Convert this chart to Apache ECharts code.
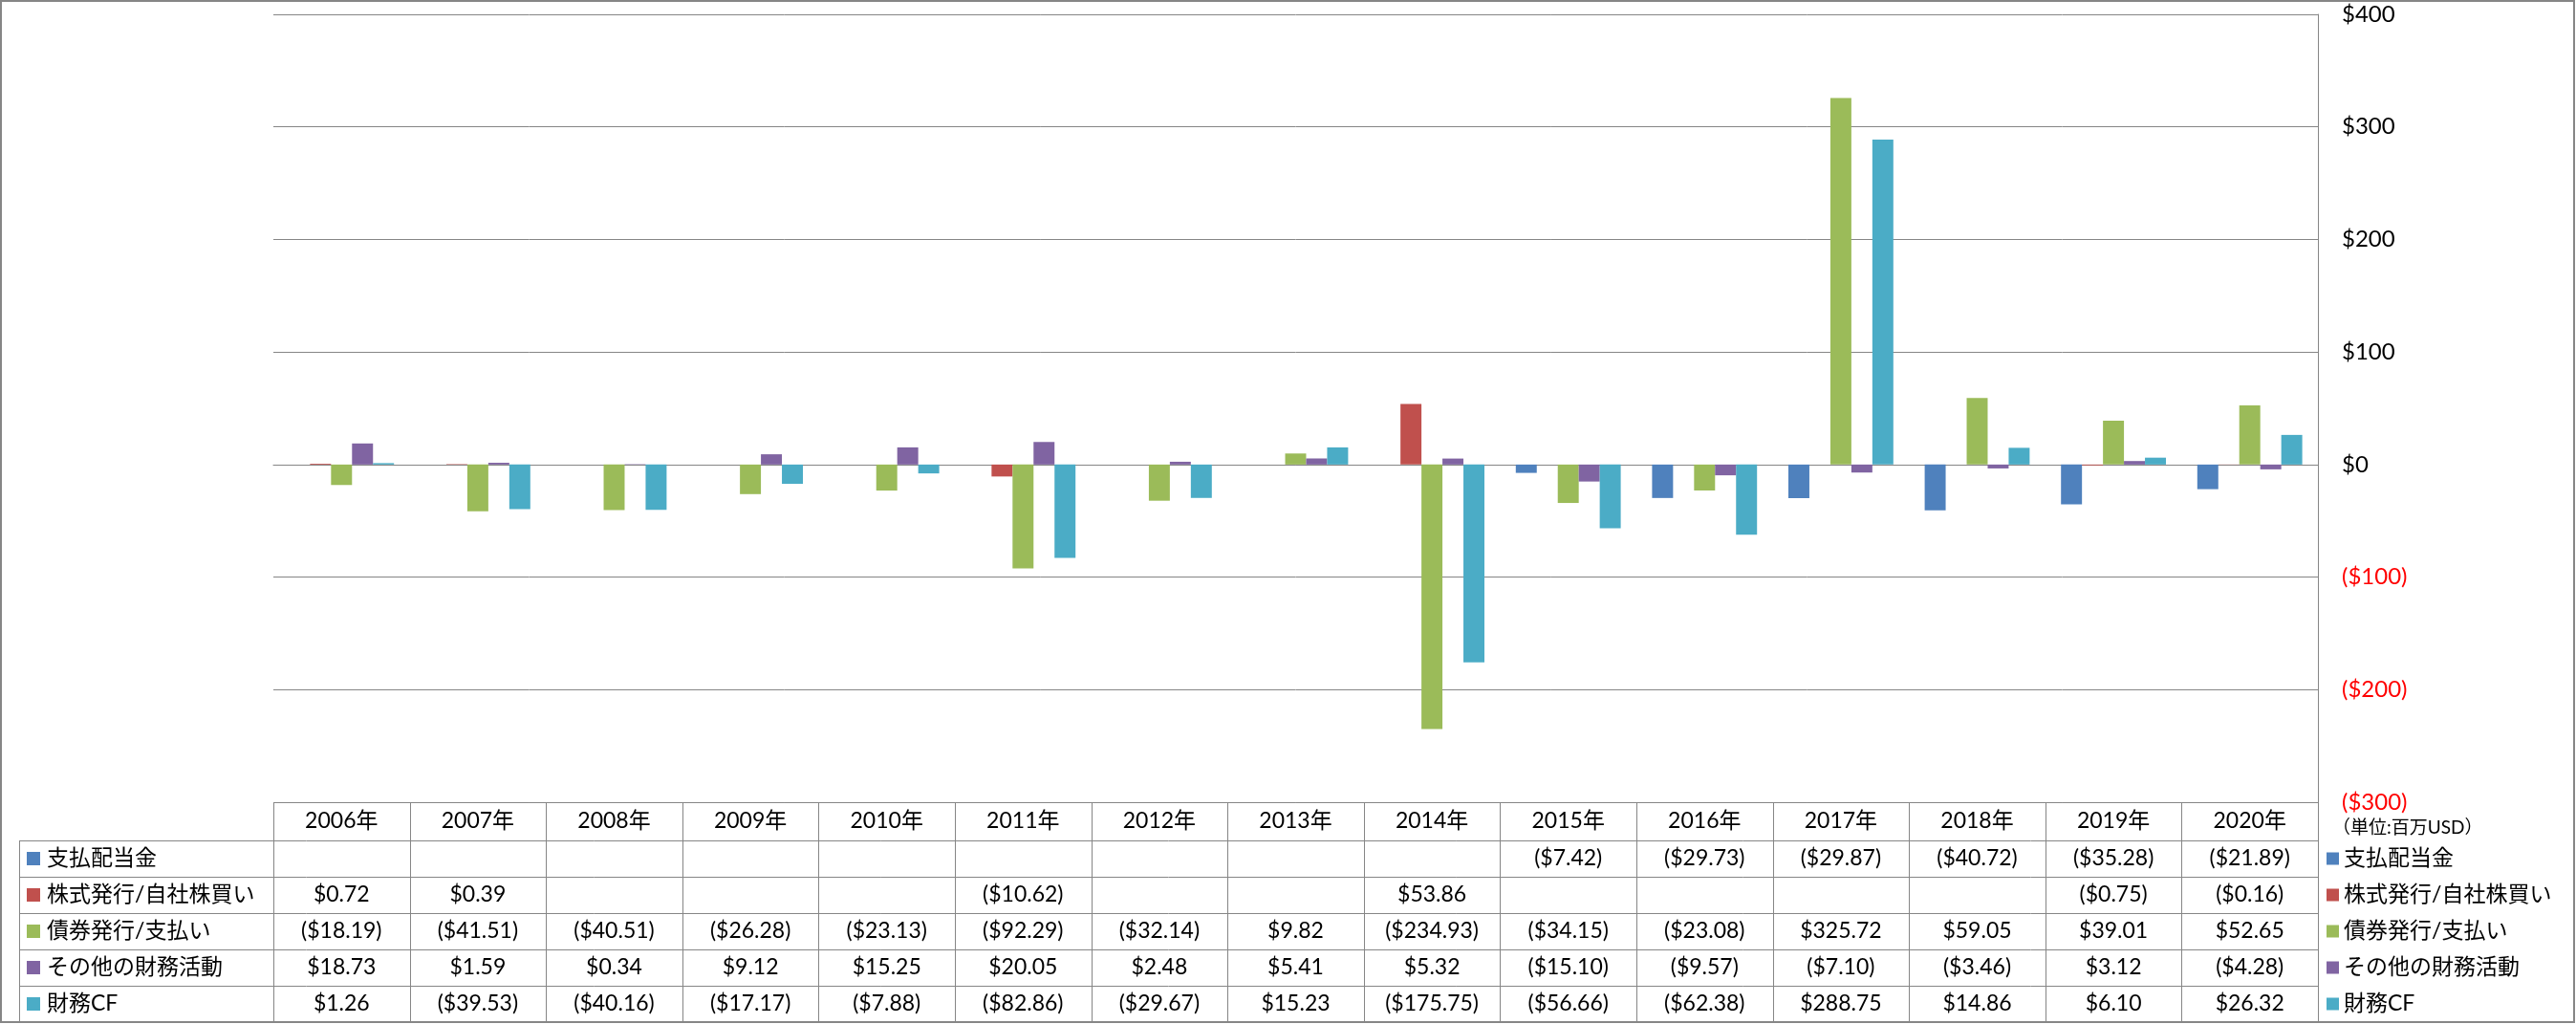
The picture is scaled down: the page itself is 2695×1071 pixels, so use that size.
<!DOCTYPE html>
<html>
<head>
<meta charset="utf-8">
<script src="https://cdn.jsdelivr.net/npm/echarts@6/dist/echarts.min.js"></script>
<style>
  html, body { margin: 0; padding: 0; background: #fff; }
  #main { width: 2695px; height: 1071px; }
</style>
</head>
<body>
<div id="main"></div>
<script>
// 年度
const years = ['2006年', '2007年', '2008年', '2009年', '2010年', '2011年', '2012年', '2013年',
  '2014年', '2015年', '2016年', '2017年', '2018年', '2019年', '2020年'];

// 系列名
const seriesNames = ['支払配当金', '株式発行/自社株買い', '債券発行/支払い', 'その他の財務活動', '財務CF'];

// 百万USD
const dividends = [null, null, null, null, null, null, null, null, null,
  -7.42, -29.73, -29.87, -40.72, -35.28, -21.89];
const stock = [0.72, 0.39, null, null, null, -10.62, null, null, 53.86,
  null, null, null, null, -0.75, -0.16];
const debt = [-18.19, -41.51, -40.51, -26.28, -23.13, -92.29, -32.14, 9.82, -234.93,
  -34.15, -23.08, 325.72, 59.05, 39.01, 52.65];
const other = [18.73, 1.59, 0.34, 9.12, 15.25, 20.05, 2.48, 5.41, 5.32,
  -15.10, -9.57, -7.10, -3.46, 3.12, -4.28];
const financeCF = [1.26, -39.53, -40.16, -17.17, -7.88, -82.86, -29.67, 15.23, -175.75,
  -56.66, -62.38, 288.75, 14.86, 6.10, 26.32];

const yTicks = [-300, -200, -100, 0, 100, 200, 300, 400];

const colors = ['#4F81BD', '#C0504D', '#9BBB59', '#8064A2', '#4BACC6'];
const allData = [dividends, stock, debt, other, financeCF];
const FONT = 'Lato, "Noto Sans CJK JP", sans-serif';
const LINE = '#868686';

function fmtMoney(v, digits) {
  if (v === null || v === undefined) return '';
  const s = '$' + Math.abs(v).toFixed(digits);
  return v < 0 ? '(' + s + ')' : s;
}

var chartDom = document.getElementById('main');
var myChart = echarts.init(chartDom);

const option = {
  animation: false,
  color: colors,
  textStyle: { fontFamily: FONT },
  grid: { left: 286, right: 270, top: 15, bottom: 232, containLabel: false },
  legend: {
    orient: 'vertical',
    left: 2434,
    top: 886,
    padding: 0,
    icon: 'rect',
    itemWidth: 13,
    itemHeight: 13,
    itemGap: 14,
    textStyle: { fontSize: 23, lineHeight: 24, color: '#000', fontFamily: FONT },
    data: seriesNames
  },
  xAxis: {
    type: 'category',
    data: years,
    axisLine: { show: true, onZero: true, lineStyle: { color: LINE, width: 1 } },
    axisTick: { show: false },
    axisLabel: { show: false },
    splitLine: { show: false }
  },
  yAxis: {
    type: 'value',
    position: 'right',
    min: yTicks[0],
    max: yTicks[yTicks.length - 1],
    interval: 100,
    axisLine: { show: true, lineStyle: { color: LINE, width: 1 } },
    axisTick: { show: false },
    splitLine: { show: true, lineStyle: { color: LINE, width: 1 } },
    axisLabel: {
      margin: 25,
      fontSize: 24,
      fontFamily: FONT,
      formatter: function (v) {
        return v < 0 ? '{neg|' + fmtMoney(v, 0) + '}' : '{pos|' + fmtMoney(v, 0) + '}';
      },
      rich: {
        pos: { color: '#000', fontSize: 24, fontFamily: FONT },
        neg: { color: '#FF0000', fontSize: 24, fontFamily: FONT }
      }
    }
  },
  series: seriesNames.map(function (name, i) {
    return {
      name: name,
      type: 'bar',
      data: allData[i],
      barGap: '0%',
      barCategoryGap: '23%',
      itemStyle: { color: colors[i] }
    };
  })
};
myChart.setOption(option);

// データテーブル（グラフ下）
const xs = years.map(function (y, i) { return myChart.convertToPixel({ xAxisIndex: 0 }, i); });
const band = xs[1] - xs[0];
const tableLeft = 20;
const colLeft = xs[0] - band / 2;
const colRight = xs[xs.length - 1] + band / 2;
const headTop = myChart.convertToPixel({ yAxisIndex: 0 }, yTicks[0]);
const headBottom = headTop + 40;
const rowH = 38;

const g = [];
// 外枠
g.push({ type: 'rect', shape: { x: 1, y: 1, width: 2692, height: 1068 },
  style: { fill: null, stroke: LINE, lineWidth: 2 }, silent: true });

// 横線
g.push({ type: 'line', shape: { x1: colLeft, y1: headTop + 0.5, x2: colRight, y2: headTop + 0.5 },
  style: { stroke: LINE, lineWidth: 1 } });
for (let r = 0; r <= seriesNames.length; r++) {
  const y = Math.round(headBottom + r * rowH) + 0.5;
  g.push({ type: 'line', shape: { x1: tableLeft, y1: y, x2: colRight, y2: y },
    style: { stroke: LINE, lineWidth: 1 } });
}
// 縦線
const tableBottom = headBottom + seriesNames.length * rowH;
g.push({ type: 'line', shape: { x1: tableLeft + 0.5, y1: headBottom, x2: tableLeft + 0.5, y2: tableBottom },
  style: { stroke: LINE, lineWidth: 1 } });
for (let c = 0; c <= years.length; c++) {
  const x = Math.round(colLeft + c * band) + 0.5;
  g.push({ type: 'line', shape: { x1: x, y1: headTop, x2: x, y2: tableBottom },
    style: { stroke: LINE, lineWidth: 1 } });
}
// 見出し
years.forEach(function (y, i) {
  g.push({ type: 'text', x: xs[i], y: headTop + 20,
    style: { text: y, fontSize: 23, fontFamily: FONT, fill: '#000', align: 'center', verticalAlign: 'middle' } });
});
// 行
seriesNames.forEach(function (name, r) {
  const cy = headBottom + r * rowH + rowH / 2;
  g.push({ type: 'rect', shape: { x: 28, y: cy - 7, width: 14, height: 14 },
    style: { fill: colors[r] } });
  g.push({ type: 'text', x: 49, y: cy,
    style: { text: name, fontSize: 23, fontFamily: FONT, fill: '#000', align: 'left', verticalAlign: 'middle' } });
  allData[r].forEach(function (v, i) {
    if (v === null) return;
    g.push({ type: 'text', x: xs[i], y: cy,
      style: { text: fmtMoney(v, 2), fontSize: 23, fontFamily: FONT, fill: '#000', align: 'center', verticalAlign: 'middle' } });
  });
});
// 単位
g.push({ type: 'text', x: 2440, y: 866,
  style: { text: '（単位:百万USD）', fontSize: 19, fontFamily: FONT, fill: '#000', align: 'left', verticalAlign: 'middle' } });

myChart.setOption({ graphic: g });
</script>
</body>
</html>
